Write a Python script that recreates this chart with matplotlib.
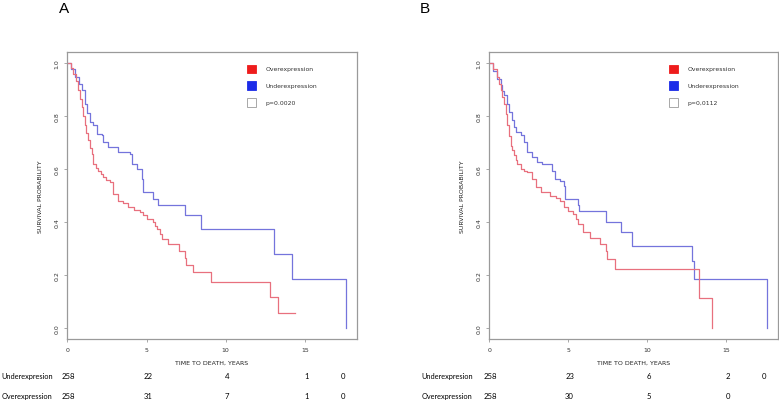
import matplotlib
matplotlib.use("Agg")
import matplotlib.pyplot as plt
from matplotlib.patches import Rectangle
import matplotlib.transforms as mtransforms

# Panel A - Kaplan-Meier steps (time in years, survival probability)
a_under_t = [0, 0.25, 0.47, 0.7, 0.9, 1.11, 1.25, 1.42, 1.63, 1.84, 2.16, 2.26, 2.58, 3.21,
             3.95, 4.06, 4.37, 4.69, 4.79, 5.42, 5.74, 7.42, 8.41, 13.07, 14.16, 17.6]
a_under_s = [1.0, 0.975, 0.946, 0.92, 0.896, 0.845, 0.81, 0.776, 0.764, 0.732, 0.726, 0.701,
             0.682, 0.663, 0.657, 0.619, 0.60, 0.563, 0.513, 0.487, 0.465, 0.427, 0.374,
             0.279, 0.186, 0.0]
a_over_t = [0, 0.2, 0.37, 0.55, 0.68, 0.8, 0.9, 1.0, 1.1, 1.2, 1.31, 1.42, 1.53, 1.63, 1.8,
            1.95, 2.1, 2.26, 2.45, 2.68, 2.89, 3.21, 3.5, 3.84, 4.2, 4.58, 4.8, 5.0, 5.42,
            5.53, 5.67, 5.84, 5.95, 6.37, 7.06, 7.42, 7.49, 7.95, 9.06, 12.83, 13.32, 14.41]
a_over_s = [1.0, 0.98, 0.958, 0.93, 0.896, 0.865, 0.833, 0.80, 0.764, 0.735, 0.707, 0.68,
            0.657, 0.619, 0.605, 0.594, 0.58, 0.569, 0.56, 0.55, 0.506, 0.481, 0.47, 0.456,
            0.445, 0.437, 0.425, 0.412, 0.40, 0.387, 0.374, 0.355, 0.337, 0.318, 0.293,
            0.264, 0.239, 0.211, 0.176, 0.117, 0.058, 0.058]

# Panel B
b_under_t = [0, 0.25, 0.5, 0.71, 0.82, 0.93, 1.08, 1.24, 1.4, 1.56, 1.66, 1.97, 2.18, 2.39,
             2.71, 3.02, 3.34, 3.97, 4.18, 4.5, 4.71, 4.81, 5.63, 5.7, 7.41, 8.36, 9.05,
             12.81, 12.98, 17.56]
b_under_s = [1.0, 0.97, 0.94, 0.914, 0.895, 0.877, 0.845, 0.814, 0.785, 0.758, 0.739, 0.726,
             0.701, 0.663, 0.645, 0.626, 0.619, 0.594, 0.563, 0.556, 0.537, 0.487, 0.465,
             0.441, 0.402, 0.364, 0.309, 0.255, 0.186, 0.0]
b_over_t = [0, 0.25, 0.5, 0.6, 0.71, 0.82, 0.93, 1.03, 1.13, 1.24, 1.34, 1.45, 1.56, 1.66,
            1.77, 1.97, 2.2, 2.39, 2.71, 2.92, 3.24, 3.86, 4.2, 4.5, 4.71, 5.0, 5.31, 5.48,
            5.63, 5.9, 5.95, 6.36, 6.99, 7.37, 7.45, 7.94, 13.25, 14.1]
b_over_s = [1.0, 0.975, 0.946, 0.92, 0.896, 0.87, 0.845, 0.805, 0.764, 0.725, 0.688, 0.67,
            0.651, 0.635, 0.619, 0.60, 0.594, 0.588, 0.563, 0.531, 0.513, 0.50, 0.49, 0.481,
            0.456, 0.44, 0.431, 0.412, 0.393, 0.377, 0.362, 0.339, 0.318, 0.293, 0.261,
            0.224, 0.113, 0.0]

p_values = ["p=0.0020", "p=0,0112"]
panel_letters = ["A", "B"]

# numbers at risk
risk_times = [0.08, 5.08, 10.08, 15.1, 17.4]
a_under_risk = ["258", "22", "4", "1", "0"]
a_over_risk = ["258", "31", "7", "1", "0"]
b_under_risk = ["258", "23", "6", "2", "0"]
b_over_risk = ["258", "30", "5", "0"]

RED = "#e8707e"
BLUE = "#7474dc"
GREY = "#9a9a9a"


def km_panel(fig, rect, under, over, pval, letter, letter_x, label_x, risk_u, risk_o):
    ax = fig.add_axes(rect)
    ax.step(under[0], under[1], where="post", color=BLUE, lw=0.9)
    ax.step(over[0], over[1], where="post", color=RED, lw=0.9)
    ax.set_xlim(-0.03, 18.3)
    ax.set_ylim(-0.04, 1.04)
    ax.set_xticks([0, 5, 10, 15])
    ax.set_yticks([0.0, 0.2, 0.4, 0.6, 0.8, 1.0])
    ax.set_yticklabels(["0.0", "0.2", "0.4", "0.6", "0.8", "1.0"], rotation=90, va="center")
    ax.tick_params(labelsize=4.5, length=2.5, width=0.6, color=GREY, pad=3,
                   labelcolor="#333333")
    for sp in ax.spines.values():
        sp.set_color(GREY)
        sp.set_linewidth(0.9)
    ax.set_xlabel("TIME TO DEATH, YEARS", fontsize=4.5, labelpad=6, color="#222222")
    ax.set_ylabel("SURVIVAL PROBABILITY", fontsize=4.5, labelpad=8, color="#222222")

    # legend drawn like the R original
    entries = [("#ee1c1c", "Overexpression"), ("#1c2ce8", "Underexpression"),
               ("white", pval)]
    for i, (c, txt) in enumerate(entries):
        yc = 0.941 - i * 0.058
        ax.add_patch(Rectangle((0.622, yc - 0.015), 0.03, 0.03, transform=ax.transAxes,
                               facecolor=c, edgecolor=GREY if c == "white" else c, lw=0.6))
        ax.text(0.685, yc, txt, transform=ax.transAxes, fontsize=4.4, va="center",
                color="#333333")

    fig.text(letter_x, 1 - 9 / 402, letter, fontsize=11, va="center",
             family="Liberation Sans")

    trans = mtransforms.blended_transform_factory(ax.transData, fig.transFigure)
    for yfig, name, counts in [(1 - 376.7 / 402, "Underexpresion", risk_u),
                               (1 - 396.7 / 402, "Overexpression", risk_o)]:
        fig.text(label_x, yfig, name, fontsize=5.3, va="center", family="Lato")
        for t, n in zip(risk_times, counts):
            ax.text(t, yfig, n, transform=trans, fontsize=5.6, ha="center", va="center",
                    family="Lato")
    return ax


fig = plt.figure(figsize=(7.79, 4.02), dpi=100)
km_panel(fig, [67 / 779, 1 - 340 / 402, 290 / 779, 287 / 402],
         (a_under_t, a_under_s), (a_over_t, a_over_s), p_values[0], panel_letters[0],
         59 / 779, 0.002, a_under_risk, a_over_risk)
km_panel(fig, [489 / 779, 1 - 340 / 402, 289.3 / 779, 287 / 402],
         (b_under_t, b_under_s), (b_over_t, b_over_s), p_values[1], panel_letters[1],
         420 / 779, 421.7 / 779, b_under_risk, b_over_risk)

fig.savefig("out.png", dpi=100)
